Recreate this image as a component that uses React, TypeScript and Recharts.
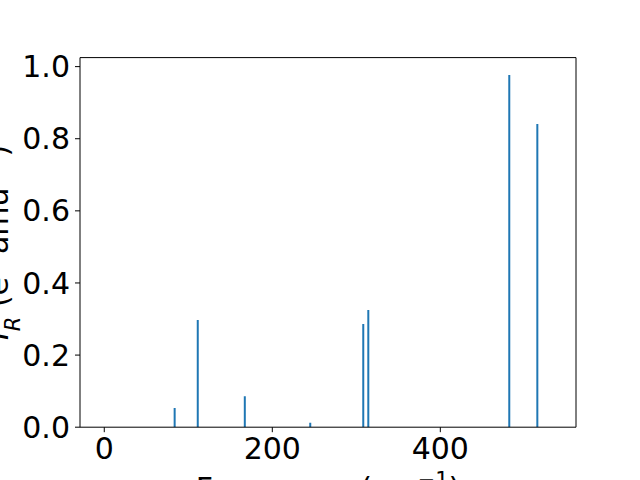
import React from 'react';
import { BarChart, Bar, XAxis, YAxis, Label, ReferenceLine } from 'recharts';

// IR spectrum: frequencies (cm^-1) and intensities
const frequencies = [83.2, 110.7, 166.7, 244.6, 307.7, 313.7, 481.5, 514.9];
const intensities = [0.053, 0.297, 0.086, 0.012, 0.286, 0.325, 0.977, 0.841];
const xTicks = [0, 200, 400];
const yTicks = [0, 0.2, 0.4, 0.6, 0.8, 1.0];

const X_MIN = -28.9;
const X_MAX = 561.5;
const Y_MAX = 1.025;

const data = frequencies.map((f, i) => ({ freq: f, ir: intensities[i] }));

const FONT = 'DejaVu Sans, sans-serif';
const tickStyle = { fontSize: 30, fill: '#000', fontFamily: FONT };

const XLabel = (props: any) => {
  const vb = props.viewBox;
  return (
    <text x={vb.x + vb.width / 2} y={499} textAnchor="middle" fontSize={30} fontFamily={FONT} fill="#000">
      Frequency (cm<tspan baseline-shift="super" fontSize={21}>−1</tspan>)
    </text>
  );
};

const YLabel = () => (
  <text x={0} y={0} transform="translate(8, 242.4) rotate(-90)" textAnchor="middle" fontSize={30} fontFamily={FONT} fill="#000">
    <tspan fontStyle="italic">I</tspan>
    <tspan baseline-shift="sub" fontSize={21} fontStyle="italic">R</tspan>
    <tspan> (e</tspan>
    <tspan baseline-shift="super" fontSize={21}>2</tspan>
    <tspan> amu</tspan>
    <tspan baseline-shift="super" fontSize={21}>−1</tspan>
    <tspan>)</tspan>
  </text>
);

const App: React.FC = () => {
  return (
    <div style={{ position: 'absolute', left: 0, top: 0, width: 640, height: 480, background: '#fff' }}>
      <BarChart width={640} height={480} data={data} margin={{ top: 57.6, right: 64, bottom: 0, left: 0 }}>
        <XAxis
          dataKey="freq"
          type="number"
          domain={[X_MIN, X_MAX]}
          allowDataOverflow
          ticks={xTicks}
          height={52.8}
          tick={tickStyle}
          tickSize={5}
          tickMargin={5}
          axisLine={{ stroke: '#000', strokeWidth: 1 }}
          tickLine={{ stroke: '#000' }}
        >
          <Label content={<XLabel />} />
        </XAxis>
        <YAxis
          type="number"
          domain={[0, Y_MAX]}
          allowDataOverflow
          ticks={yTicks}
          width={80}
          tick={tickStyle}
          tickSize={5}
          tickMargin={5}
          tickFormatter={(v: number) => v.toFixed(1)}
          axisLine={{ stroke: '#000', strokeWidth: 1 }}
          tickLine={{ stroke: '#000' }}
        />
        <Bar dataKey="ir" fill="#1f77b4" barSize={2} isAnimationActive={false} />
        {/* top and right spines */}
        <ReferenceLine y={Y_MAX} stroke="#000" strokeWidth={1} ifOverflow="visible" />
        <ReferenceLine x={X_MAX} stroke="#000" strokeWidth={1} ifOverflow="visible" />
      </BarChart>
      <svg width={640} height={480} style={{ position: 'absolute', left: 0, top: 0, pointerEvents: 'none' }}>
        <YLabel />
      </svg>
    </div>
  );
};

export default App;
